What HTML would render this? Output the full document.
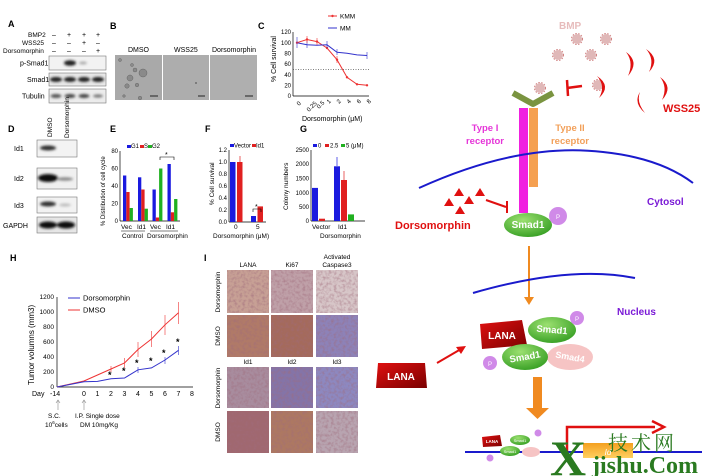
<!DOCTYPE html>
<html><head><meta charset="utf-8"><style>
html,body{margin:0;padding:0;background:#fff;}
svg{display:block;font-family:"Liberation Sans",Arial,sans-serif;}
</style></head><body>
<svg width="711" height="476" viewBox="0 0 711 476" xmlns="http://www.w3.org/2000/svg">
<defs>
<filter id="bl" x="-50%" y="-50%" width="200%" height="200%"><feGaussianBlur stdDeviation="1.3"/></filter>
<filter id="tex" x="0" y="0" width="100%" height="100%"><feTurbulence type="fractalNoise" baseFrequency="0.35" numOctaves="2" seed="3"/><feColorMatrix type="matrix" values="0 0 0 0 0.35  0 0 0 0 0.15  0 0 0 0 0.2  0 0 0 -2.2 1.3"/><feComposite in2="SourceGraphic" operator="in"/></filter>
<linearGradient id="lana" x1="0" y1="0" x2="1" y2="1"><stop offset="0" stop-color="#e01010"/><stop offset="1" stop-color="#7a0000"/></linearGradient>
<radialGradient id="sm" cx="0.4" cy="0.3" r="0.8"><stop offset="0" stop-color="#9be070"/><stop offset="1" stop-color="#2f9a1e"/></radialGradient>
<linearGradient id="idg" x1="0" y1="0" x2="0" y2="1"><stop offset="0" stop-color="#f4a020"/><stop offset="1" stop-color="#ffd060"/></linearGradient>
</defs>
<g font-size="7" fill="#000">
<!-- Panel A -->
<text x="8" y="27" font-size="9" font-weight="bold">A</text>
<text x="28" y="37" font-size="6.5">BMP2</text><text x="22" y="45" font-size="6.5">WSS25</text><text x="3" y="53" font-size="6.5">Dorsomorphin</text>
<text x="52" y="37">–</text><text x="67" y="37">+</text><text x="82" y="37">+</text><text x="96" y="37">+</text>
<text x="52" y="45">–</text><text x="67" y="45">–</text><text x="82" y="45">+</text><text x="96" y="45">–</text>
<text x="52" y="53">–</text><text x="67" y="53">–</text><text x="82" y="53">–</text><text x="96" y="53">+</text>
<rect x="49" y="56" width="57" height="14" fill="#f2f2f2" stroke="#777" stroke-width="0.6"/>
<rect x="49" y="73" width="57" height="13" fill="#e8e8e8" stroke="#777" stroke-width="0.6"/>
<rect x="49" y="89" width="57" height="14" fill="#ececec" stroke="#777" stroke-width="0.6"/>
<g filter="url(#bl)" fill="#222"><ellipse cx="70" cy="63" rx="6" ry="2.8"/><ellipse cx="83" cy="63" rx="4" ry="1.5" fill="#aaa"/>
<ellipse cx="56" cy="79.5" rx="6" ry="2.5"/><ellipse cx="70" cy="79.5" rx="6" ry="2.5"/><ellipse cx="84" cy="79.5" rx="6" ry="2.5"/><ellipse cx="98" cy="79.5" rx="6" ry="2.5"/>
<ellipse cx="56" cy="96" rx="5.5" ry="2" fill="#555"/><ellipse cx="70" cy="96" rx="5.5" ry="2" fill="#444"/><ellipse cx="84" cy="96" rx="5.5" ry="2" fill="#444"/><ellipse cx="98" cy="96" rx="5" ry="1.6" fill="#777"/></g>
<text x="20" y="65.5" font-size="7">p-Smad1</text><text x="27" y="82" font-size="7">Smad1</text><text x="22" y="98.5" font-size="7">Tubulin</text>

<!-- Panel B -->
<text x="110" y="29" font-size="9" font-weight="bold">B</text>
<text x="128" y="52" font-size="7">DMSO</text><text x="174" y="52" font-size="7">WSS25</text><text x="212" y="52" font-size="7">Dorsomorphin</text>
<rect x="115" y="55" width="47" height="45" fill="#a9a9a9"/>
<rect x="163" y="55" width="46" height="45" fill="#adadad"/>
<rect x="210" y="55" width="47" height="45" fill="#afafaf"/>
<g fill="#8a8a8a" stroke="#666" stroke-width="0.5"><circle cx="143" cy="73" r="4"/><circle cx="130" cy="78" r="3"/><circle cx="135" cy="70" r="2"/><circle cx="127" cy="86" r="2.2"/><circle cx="137" cy="85" r="1.8"/><circle cx="132" cy="65" r="1.5"/><circle cx="120" cy="60" r="1.5"/><circle cx="140" cy="98" r="1.8"/><circle cx="124" cy="96" r="1.3"/><circle cx="196" cy="83" r="0.8"/></g>
<g stroke="#222" stroke-width="1"><line x1="150" y1="96" x2="158" y2="96"/><line x1="198" y1="96" x2="205" y2="96"/><line x1="245" y1="96" x2="253" y2="96"/></g>

<!-- Panel C -->
<text x="258" y="29" font-size="9" font-weight="bold">C</text>
<g stroke="#000" stroke-width="0.7" fill="none"><line x1="293" y1="32" x2="293" y2="96"/><line x1="293" y1="96" x2="369" y2="96"/></g>
<g font-size="6" text-anchor="end"><text x="291" y="34">120</text><text x="291" y="45">100</text><text x="291" y="55.5">80</text><text x="291" y="66">60</text><text x="291" y="77">40</text><text x="291" y="87.5">20</text><text x="291" y="98">0</text></g>
<line x1="293" y1="69.3" x2="369" y2="69.3" stroke="#333" stroke-width="0.7" stroke-dasharray="1,1.5"/>
<text transform="translate(276,82) rotate(-90)" font-size="7">% Cell survival</text>
<polyline fill="none" stroke="#e33" stroke-width="1" points="297,42.7 307,39.5 317,41.6 327,48 337,59.7 347,77.3 357,84.3 367,85.3"/>
<polyline fill="none" stroke="#33c" stroke-width="1" points="297,42.7 307,44.8 317,45.3 327,44.8 337,52.3 347,53.3 357,54.9 367,55.5"/>
<g fill="#e33"><circle cx="297" cy="42.7" r="1.2"/><circle cx="307" cy="39.5" r="1.2"/><circle cx="317" cy="41.6" r="1.2"/><circle cx="327" cy="48" r="1.2"/><circle cx="337" cy="59.7" r="1.2"/><circle cx="347" cy="77.3" r="1.2"/><circle cx="357" cy="84.3" r="1.2"/><circle cx="367" cy="85.3" r="1.2"/></g>
<g stroke="#33c" stroke-width="0.6"><line x1="297" y1="37" x2="297" y2="48"/><line x1="307" y1="41" x2="307" y2="48"/><line x1="327" y1="41" x2="327" y2="48"/><line x1="337" y1="49" x2="337" y2="55"/><line x1="367" y1="52" x2="367" y2="59"/></g>
<g stroke="#e33" stroke-width="0.6"><line x1="307" y1="36" x2="307" y2="43"/><line x1="317" y1="38" x2="317" y2="45"/><line x1="337" y1="56" x2="337" y2="63"/></g>
<line x1="328" y1="16" x2="337" y2="16" stroke="#e33"/><circle cx="332.5" cy="16" r="1.2" fill="#e33"/><text x="340" y="18.5" font-size="6.5">KMM</text>
<line x1="328" y1="28" x2="337" y2="28" stroke="#33c"/><text x="340" y="30.5" font-size="6.5">MM</text>
<g font-size="6"><text transform="translate(299,106) rotate(-45)">0</text><text transform="translate(309,112) rotate(-45)">0.25</text><text transform="translate(319,109) rotate(-45)">0.5</text><text transform="translate(329,104) rotate(-45)">1</text><text transform="translate(339,104) rotate(-45)">2</text><text transform="translate(349,104) rotate(-45)">4</text><text transform="translate(359,104) rotate(-45)">6</text><text transform="translate(369,104) rotate(-45)">8</text></g>
<text x="302" y="121" font-size="7">Dorsomorphin (μM)</text>

<!-- Panel D -->
<text x="8" y="132" font-size="9" font-weight="bold">D</text>
<text transform="translate(52,137) rotate(-90)" font-size="6.5">DMSO</text>
<text transform="translate(69,138) rotate(-90)" font-size="6.5">Dorsomorphin</text>
<rect x="37" y="140" width="40" height="17" fill="#f3f3f3" stroke="#777" stroke-width="0.6"/>
<rect x="37" y="168" width="40" height="21" fill="#f0f0f0" stroke="#777" stroke-width="0.6"/>
<rect x="37" y="197" width="40" height="16" fill="#f2f2f2" stroke="#777" stroke-width="0.6"/>
<rect x="37" y="217" width="40" height="16" fill="#e6e6e6" stroke="#777" stroke-width="0.6"/>
<g filter="url(#bl)"><ellipse cx="48" cy="148" rx="8" ry="2.5" fill="#333"/><ellipse cx="48" cy="178" rx="10" ry="4" fill="#111"/><ellipse cx="65" cy="179" rx="8" ry="1.8" fill="#888"/><ellipse cx="48" cy="204" rx="8" ry="2.5" fill="#333"/><ellipse cx="65" cy="205" rx="6" ry="1.5" fill="#bbb"/><ellipse cx="48" cy="225" rx="9" ry="3.5" fill="#111"/><ellipse cx="66" cy="225" rx="9" ry="3.5" fill="#111"/></g>
<text x="14" y="151" font-size="7">Id1</text><text x="14" y="181" font-size="7">Id2</text><text x="14" y="208" font-size="7">Id3</text><text x="3" y="228" font-size="7">GAPDH</text>

<!-- Panel E -->
<text x="110" y="132" font-size="9" font-weight="bold">E</text>
<g stroke="#000" stroke-width="0.7"><line x1="120" y1="151" x2="120" y2="221"/><line x1="120" y1="221" x2="180" y2="221"/></g>
<g font-size="6" text-anchor="end"><text x="118" y="153">80</text><text x="118" y="170.5">60</text><text x="118" y="188">40</text><text x="118" y="205.5">20</text><text x="118" y="223">0</text></g>
<text transform="translate(105,226) rotate(-90)" font-size="6">% Distribution of cell cycle</text>
<g fill="#1a1adf"><rect x="123" y="175.5" width="3.3" height="45.5"/><rect x="138" y="177.3" width="3.3" height="43.7"/><rect x="152.5" y="189.5" width="3.3" height="31.5"/><rect x="167.5" y="164" width="3.3" height="57"/></g>
<g fill="#e02020"><rect x="126.3" y="192" width="3.3" height="29"/><rect x="141.3" y="189.5" width="3.3" height="31.5"/><rect x="155.8" y="217.5" width="3.3" height="3.5"/><rect x="170.8" y="212.3" width="3.3" height="8.7"/></g>
<g fill="#20b020"><rect x="129.6" y="208" width="3.3" height="13"/><rect x="144.6" y="208.7" width="3.3" height="12.3"/><rect x="159.1" y="168.5" width="3.3" height="52.5"/><rect x="174.1" y="199" width="3.3" height="22"/></g>
<path d="M160,160 V157 H174 V160" fill="none" stroke="#000" stroke-width="0.6"/><text x="165" y="157" font-size="7">*</text>
<rect x="127" y="145" width="4" height="3" fill="#1a1adf"/><text x="131" y="148" font-size="6">G1</text><rect x="140" y="145" width="4" height="3" fill="#e02020"/><text x="144" y="148" font-size="6">S</text><rect x="148" y="145" width="4" height="3" fill="#20b020"/><text x="152" y="148" font-size="6">G2</text>
<g font-size="6.5"><text x="121" y="229">Vec</text><text x="137" y="229">Id1</text><text x="150" y="229">Vec</text><text x="166" y="229">Id1</text><text x="122" y="238">Control</text><text x="147" y="238">Dorsomorphin</text></g>
<g stroke="#000" stroke-width="0.5"><line x1="121" y1="231" x2="145" y2="231"/><line x1="150" y1="231" x2="178" y2="231"/></g>

<!-- Panel F -->
<text x="205" y="132" font-size="9" font-weight="bold">F</text>
<g stroke="#000" stroke-width="0.7"><line x1="229" y1="150" x2="229" y2="222"/><line x1="229" y1="222" x2="266" y2="222"/></g>
<g font-size="6" text-anchor="end"><text x="227" y="152">1.2</text><text x="227" y="164">1.0</text><text x="227" y="176">0.8</text><text x="227" y="188">0.6</text><text x="227" y="200">0.4</text><text x="227" y="212">0.2</text><text x="227" y="224">0.0</text></g>
<text transform="translate(214,205) rotate(-90)" font-size="6.5">% Cell survival</text>
<rect x="230" y="162" width="5.5" height="60" fill="#1a1adf"/><rect x="237" y="162" width="5.5" height="60" fill="#e02020"/>
<rect x="251" y="216" width="5" height="6" fill="#1a1adf"/><rect x="257.5" y="206.4" width="5.5" height="15.6" fill="#e02020"/>
<g stroke="#e02020" stroke-width="0.7"><line x1="240" y1="162" x2="240" y2="156"/></g>
<path d="M253,212 V209 H261 V212" fill="none" stroke="#000" stroke-width="0.6"/><text x="255" y="209" font-size="7">*</text>
<rect x="230" y="144" width="4" height="3" fill="#1a1adf"/><text x="234" y="147.5" font-size="6">Vector</text><rect x="252" y="144" width="4" height="3" fill="#e02020"/><text x="256" y="147.5" font-size="6">Id1</text>
<text x="234" y="229" font-size="6.5">0</text><text x="256" y="229" font-size="6.5">5</text>
<text x="213" y="238" font-size="6.5">Dorsomorphin (μM)</text>

<!-- Panel G -->
<text x="300" y="132" font-size="9" font-weight="bold">G</text>
<g stroke="#000" stroke-width="0.7"><line x1="311" y1="150" x2="311" y2="221"/><line x1="311" y1="221" x2="365" y2="221"/></g>
<g font-size="6" text-anchor="end"><text x="309" y="152">2500</text><text x="309" y="166">2000</text><text x="309" y="180.5">1500</text><text x="309" y="195">1000</text><text x="309" y="209">500</text><text x="309" y="223">0</text></g>
<text transform="translate(288,210) rotate(-90)" font-size="6.5">Colony numbers</text>
<rect x="312" y="187.9" width="6" height="33.1" fill="#1a1adf"/><rect x="319" y="218.7" width="6" height="2.3" fill="#e02020"/>
<rect x="334" y="166.3" width="6" height="54.7" fill="#1a1adf"/><rect x="341" y="180" width="6" height="41" fill="#e02020"/><rect x="348" y="214.4" width="6" height="6.6" fill="#20b020"/>
<g stroke-width="0.7"><line x1="337" y1="166" x2="337" y2="157" stroke="#1a1adf"/><line x1="344" y1="180" x2="344" y2="171" stroke="#e02020"/></g>
<rect x="313" y="144" width="4" height="3" fill="#1a1adf"/><text x="318" y="147.5" font-size="6">0</text><rect x="325" y="144" width="4" height="3" fill="#e02020"/><text x="330" y="147.5" font-size="6">2.5</text><rect x="341" y="144" width="4" height="3" fill="#20b020"/><text x="346" y="147.5" font-size="6">5 (μM)</text>
<text x="312" y="229" font-size="6.5">Vector</text><text x="338" y="229" font-size="6.5">Id1</text><text x="320" y="238" font-size="6.5">Dorsomorphin</text>

<!-- Panel H -->
<text x="10" y="261" font-size="9" font-weight="bold">H</text>
<g stroke="#000" stroke-width="0.7"><line x1="57" y1="297" x2="57" y2="387"/><line x1="57" y1="387" x2="193" y2="387"/></g>
<g font-size="6.5" text-anchor="end"><text x="54" y="299">1200</text><text x="54" y="314">1000</text><text x="54" y="329">800</text><text x="54" y="344">600</text><text x="54" y="359">400</text><text x="54" y="374">200</text><text x="54" y="389">0</text></g>
<text transform="translate(34,385) rotate(-90)" font-size="8">Tumor volumns (mm3)</text>
<polyline fill="none" stroke="#e33" stroke-width="1" points="57,387 84,381 97.5,375 111,369 124.5,363 138,349.5 151.5,339 165,324.8 178.5,312.8"/>
<polyline fill="none" stroke="#33c" stroke-width="1" points="57,387 84,381.8 97.5,381.4 111,378.8 124.5,378 138,369.8 151.5,367.9 165,360 178.5,350.3"/>
<g stroke="#e33" stroke-width="0.6"><line x1="111" y1="366" x2="111" y2="372"/><line x1="124.5" y1="358" x2="124.5" y2="368"/><line x1="138" y1="342" x2="138" y2="357"/><line x1="151.5" y1="331" x2="151.5" y2="347"/><line x1="165" y1="315" x2="165" y2="335"/><line x1="178.5" y1="302" x2="178.5" y2="324"/></g>
<g stroke="#33c" stroke-width="0.6"><line x1="138" y1="367" x2="138" y2="373"/><line x1="165" y1="357" x2="165" y2="364"/><line x1="178.5" y1="346" x2="178.5" y2="355"/></g>
<g font-size="9" font-weight="bold"><text x="108" y="378">*</text><text x="122" y="374">*</text><text x="135" y="366">*</text><text x="149" y="364">*</text><text x="162" y="356">*</text><text x="176" y="345">*</text></g>
<line x1="68" y1="298" x2="80" y2="298" stroke="#33c"/><text x="83" y="300.5" font-size="7.5">Dorsomorphin</text>
<line x1="68" y1="310" x2="80" y2="310" stroke="#e33"/><text x="83" y="312.5" font-size="7.5">DMSO</text>
<g font-size="7"><text x="32" y="396">Day</text><text x="50" y="396">-14</text><text x="82" y="396">0</text><text x="95.5" y="396">1</text><text x="109" y="396">2</text><text x="122.5" y="396">3</text><text x="136" y="396">4</text><text x="149.5" y="396">5</text><text x="163" y="396">6</text><text x="176.5" y="396">7</text><text x="190" y="396">8</text></g>
<g stroke="#888" stroke-width="0.6" fill="none"><line x1="58" y1="400" x2="58" y2="410"/><path d="M56,403 L58,400 L60,403"/><line x1="84" y1="400" x2="84" y2="410"/><path d="M82,403 L84,400 L86,403"/></g>
<g font-size="6.5"><text x="48" y="418">S.C.</text><text x="45" y="427">10<tspan font-size="4.5" dy="-3">6</tspan><tspan dy="3">cells</tspan></text><text x="75" y="418">I.P. Single dose</text><text x="80" y="427">DM 10mg/Kg</text></g>

<!-- Panel I -->
<text x="204" y="261" font-size="9" font-weight="bold">I</text>
<g font-size="6.5" text-anchor="middle"><text x="248" y="267">LANA</text><text x="292" y="267">Ki67</text><text x="337" y="259">Activated</text><text x="337" y="267">Caspase3</text><text x="248" y="364">Id1</text><text x="292" y="364">Id2</text><text x="337" y="364">Id3</text></g>
<g font-size="6.5" text-anchor="middle"><text transform="translate(220,292) rotate(-90)">Dorsomorphin</text><text transform="translate(220,336) rotate(-90)">DMSO</text><text transform="translate(220,388) rotate(-90)">Dorsomorphin</text><text transform="translate(220,432) rotate(-90)">DMSO</text></g>
<g>
<rect x="227" y="270" width="42" height="43" fill="#c7a095"/><rect x="271" y="270" width="42" height="43" fill="#bfa0a8"/><rect x="316" y="270" width="42" height="43" fill="#d7c6c8"/>
<rect x="227" y="315" width="42" height="42" fill="#b07a68"/><rect x="271" y="315" width="42" height="42" fill="#a46a5c"/><rect x="316" y="315" width="42" height="42" fill="#8d82b8"/>
<rect x="227" y="367" width="42" height="41" fill="#a88c9e"/><rect x="271" y="367" width="42" height="41" fill="#8474a8"/><rect x="316" y="367" width="42" height="41" fill="#8d88c0"/>
<rect x="227" y="411" width="42" height="42" fill="#a06870"/><rect x="271" y="411" width="42" height="42" fill="#ad7862"/><rect x="316" y="411" width="42" height="42" fill="#b8a4b0"/>
</g>
<g filter="url(#tex)" opacity="0.55" fill="#fff">
<rect x="227" y="270" width="42" height="43"/><rect x="271" y="270" width="42" height="43"/><rect x="316" y="270" width="42" height="43"/>
<rect x="227" y="315" width="42" height="42"/><rect x="271" y="315" width="42" height="42"/><rect x="316" y="315" width="42" height="42"/>
<rect x="227" y="367" width="42" height="41"/><rect x="271" y="367" width="42" height="41"/><rect x="316" y="367" width="42" height="41"/>
<rect x="227" y="411" width="42" height="42"/><rect x="271" y="411" width="42" height="42"/><rect x="316" y="411" width="42" height="42"/>
</g>
</g>

<!-- Right schematic -->
<text x="559" y="29" font-size="10" font-weight="bold" fill="#e7bcbc">BMP</text>
<g fill="#e0b8b8"><circle cx="577" cy="39" r="5"/><circle cx="606" cy="39" r="5"/><circle cx="558" cy="55" r="5"/><circle cx="591" cy="55" r="5"/><circle cx="540" cy="88" r="5"/><circle cx="598" cy="85" r="5"/></g>
<g stroke="#d07f7f" stroke-width="1" stroke-dasharray="1.5,1.5" fill="none"><circle cx="577" cy="39" r="5.5"/><circle cx="606" cy="39" r="5.5"/><circle cx="558" cy="55" r="5.5"/><circle cx="591" cy="55" r="5.5"/><circle cx="540" cy="88" r="5.5"/><circle cx="598" cy="85" r="5.5"/></g>
<g fill="#e01010">
<path d="M597,76 Q612,86 599,98 Q606,86 597,76 Z"/>
<path d="M626,52 Q640,62 628,76 Q634,62 626,52 Z"/>
<path d="M646,49 Q661,59 649,72 Q655,59 646,49 Z"/>
<path d="M660,77 Q674,87 662,100 Q668,87 660,77 Z"/>
<path d="M640,92 Q633,103 645,113 Q636,102 640,92 Z"/>
</g>
<text x="663" y="112" font-size="11" font-weight="bold" fill="#e01010">WSS25</text>
<g stroke="#e01010" stroke-width="2.5"><line x1="567" y1="88" x2="582" y2="86"/><line x1="567" y1="80" x2="568" y2="96"/></g>
<path d="M513,93 L533,104 L553,93" fill="none" stroke="#7a9440" stroke-width="6" stroke-linejoin="round"/>
<rect x="519" y="108" width="9" height="105" fill="#f020e0"/>
<rect x="529" y="108" width="9" height="79" fill="#f5a050"/>
<text x="485" y="131" font-size="9.5" font-weight="bold" fill="#e535d8" text-anchor="middle">Type I</text>
<text x="485" y="144" font-size="9.5" font-weight="bold" fill="#e535d8" text-anchor="middle">receptor</text>
<text x="570" y="131" font-size="9.5" font-weight="bold" fill="#f2a05a" text-anchor="middle">Type II</text>
<text x="570" y="144" font-size="9.5" font-weight="bold" fill="#f2a05a" text-anchor="middle">receptor</text>
<path d="M419,188 Q520,142 603,152 Q660,158 693,183" fill="none" stroke="#1a1acc" stroke-width="2"/>
<text x="647" y="205" font-size="10" font-weight="bold" fill="#7a1ad6">Cytosol</text>
<g fill="#e01010"><path d="M459,188 L464,196 L454,196Z"/><path d="M480,188 L485,196 L475,196Z"/><path d="M449,198 L454,206 L444,206Z"/><path d="M469,196 L474,204 L464,204Z"/><path d="M460,206 L465,214 L455,214Z"/></g>
<g stroke="#e01010" stroke-width="2"><line x1="486" y1="200" x2="506" y2="207"/><line x1="507" y1="201" x2="507" y2="213"/></g>
<text x="395" y="229" font-size="11" font-weight="bold" fill="#e01010">Dorsomorphin</text>
<ellipse cx="528" cy="225" rx="24" ry="12" fill="url(#sm)"/>
<text x="528" y="228" font-size="10" font-weight="bold" fill="#fff" text-anchor="middle">Smad1</text>
<circle cx="558" cy="216" r="9" fill="#d08ae8"/><text x="558" y="219" font-size="6" fill="#fff" text-anchor="middle">P</text>
<line x1="529" y1="246" x2="529" y2="298" stroke="#f08a20" stroke-width="2"/><path d="M524,297 L529,305 L534,297 Z" fill="#f08a20"/>
<path d="M473,293 Q570,265 635,278" fill="none" stroke="#1a1acc" stroke-width="2"/>
<text x="617" y="315" font-size="10" font-weight="bold" fill="#7a1ad6">Nucleus</text>
<ellipse cx="570" cy="357" rx="23" ry="13" fill="#f6c4c4"/><text x="570" y="360" font-size="9" font-weight="bold" fill="#fff" text-anchor="middle" transform="rotate(10,570,357)">Smad4</text>
<ellipse cx="552" cy="330" rx="24" ry="13" fill="url(#sm)"/><text x="552" y="333" font-size="9.5" font-weight="bold" fill="#fff" text-anchor="middle" transform="rotate(5,552,330)">Smad1</text>
<path d="M480,324 L522,320 L527,345 L482,349 Z" fill="url(#lana)"/><text x="502" y="339" font-size="10" font-weight="bold" fill="#fff" text-anchor="middle">LANA</text>
<ellipse cx="525" cy="357" rx="23" ry="13" fill="url(#sm)"/><text x="525" y="360" font-size="9.5" font-weight="bold" fill="#fff" text-anchor="middle" transform="rotate(-10,525,357)">Smad1</text>
<circle cx="577" cy="318" r="7" fill="#d08ae8"/><text x="577" y="321" font-size="6" fill="#fff" text-anchor="middle">P</text>
<circle cx="490" cy="363" r="7" fill="#d08ae8"/><text x="490" y="366" font-size="6" fill="#fff" text-anchor="middle">P</text>
<line x1="437" y1="363" x2="461" y2="349" stroke="#e01010" stroke-width="2"/><path d="M466,346 L456,347 L461,354 Z" fill="#e01010"/>
<path d="M378,363 L425,363 L427,388 L376,388 Z" fill="url(#lana)"/><text x="401" y="380" font-size="10" font-weight="bold" fill="#fff" text-anchor="middle">LANA</text>
<rect x="533" y="377" width="9" height="31" fill="#f08a20"/><path d="M526,408 L549,408 L537.5,419 Z" fill="#f08a20"/>
<line x1="465" y1="452" x2="702" y2="452" stroke="#1a1acc" stroke-width="2"/>
<rect x="583" y="443" width="50" height="15" fill="url(#idg)"/><text x="608" y="455" font-size="8" font-style="italic" fill="#fff" text-anchor="middle">Id</text>
<path d="M567,452 V427 H655" fill="none" stroke="#e01010" stroke-width="2.5"/><path d="M652,421 L664,427 L652,433" fill="none" stroke="#e01010" stroke-width="2.5"/>
<ellipse cx="531" cy="452" rx="9" ry="5" fill="#f6c4c4"/>
<ellipse cx="520" cy="440" rx="10" ry="5" fill="url(#sm)"/><text x="520" y="442" font-size="4" fill="#fff" text-anchor="middle">Smad1</text>
<path d="M482,437 L500,435 L502,446 L483,447 Z" fill="url(#lana)"/><text x="492" y="443" font-size="4.5" font-weight="bold" fill="#fff" text-anchor="middle">LANA</text>
<ellipse cx="510" cy="451" rx="10" ry="5" fill="url(#sm)"/><text x="510" y="453" font-size="4" fill="#fff" text-anchor="middle">Smad1</text>
<circle cx="538" cy="433" r="3.5" fill="#d08ae8"/><circle cx="490" cy="458" r="3.5" fill="#d08ae8"/>
<text x="550" y="475" font-family="'Liberation Serif',serif" font-size="50" font-weight="bold" fill="#2a7a20">X</text>
<text x="608" y="450" font-family="'Liberation Serif','Noto Serif CJK SC',serif" font-size="20" fill="#2a7a20" letter-spacing="3">技术网</text>
<text x="592" y="473" font-family="'Liberation Serif',serif" font-size="24" font-weight="bold" fill="#2a7a20">jishu.Com</text>
</svg>
</body></html>
